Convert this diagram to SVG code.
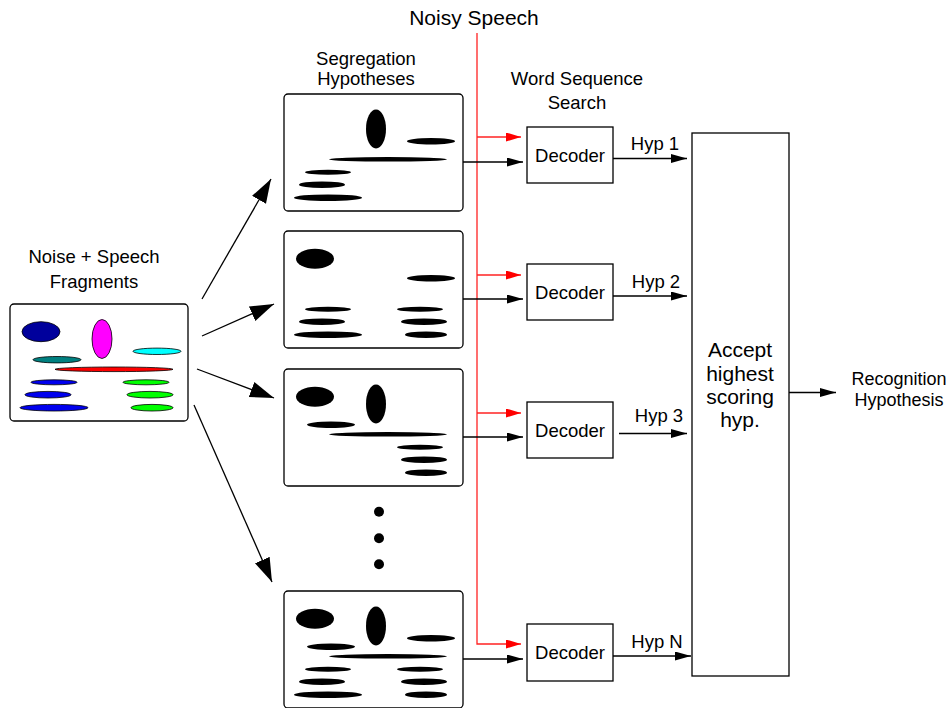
<svg xmlns="http://www.w3.org/2000/svg" xmlns:xlink="http://www.w3.org/1999/xlink" width="951" height="708" viewBox="0 0 951 708">
<style>
text{font-family:"Liberation Sans",Arial,sans-serif;fill:#000;text-anchor:middle}
.t18{font-size:18.5px}
.t17{font-size:18px}
.t21{font-size:21px}
.box{fill:#fff;stroke:#000;stroke-width:1.3}
.ln{fill:none;stroke:#000;stroke-width:1.3}
.rd{fill:none;stroke:#f22;stroke-width:1.3}
.frag use{stroke:#000;stroke-width:0.8}
.blk{fill:#000}
</style>
<defs>
<marker id="big" markerUnits="userSpaceOnUse" markerWidth="26" markerHeight="18" refX="24" refY="8" orient="auto"><path d="M0,0 L24,8 L0,16 z" fill="#000"/></marker>
<marker id="ah" markerUnits="userSpaceOnUse" markerWidth="18" markerHeight="10" refX="16" refY="4.5" orient="auto"><path d="M0,0 L16,4.5 L0,9 z" fill="#000"/></marker>
<marker id="ar" markerUnits="userSpaceOnUse" markerWidth="18" markerHeight="10" refX="15" refY="4.5" orient="auto"><path d="M0,0 L15,4.5 L0,9 z" fill="#f00"/></marker>
<ellipse id="fA" cx="41" cy="331.7" rx="19" ry="10"/>
<ellipse id="fB" cx="102" cy="339" rx="10" ry="19.5"/>
<ellipse id="fC" cx="157" cy="351.3" rx="24" ry="3.2"/>
<ellipse id="fD" cx="57" cy="359.7" rx="24" ry="3.2"/>
<ellipse id="fE" cx="114" cy="369.3" rx="59" ry="2.3"/>
<ellipse id="fF" cx="54" cy="382.3" rx="23" ry="2.5"/>
<ellipse id="fG" cx="146" cy="382.3" rx="23" ry="2.5"/>
<ellipse id="fH" cx="48" cy="394.7" rx="23" ry="3.3"/>
<ellipse id="fI" cx="150" cy="394.7" rx="23" ry="3.3"/>
<ellipse id="fJ" cx="54" cy="407.7" rx="34" ry="3.3"/>
<ellipse id="fK" cx="152" cy="407.7" rx="21" ry="3.3"/>
</defs>

<text class="t21" x="474" y="25">Noisy Speech</text>
<text class="t18" x="366" y="65">Segregation</text>
<text class="t18" x="366" y="85">Hypotheses</text>
<text class="t18" x="577" y="85">Word Sequence</text>
<text class="t18" x="577" y="109">Search</text>

<g id="noise-fragments">
<text class="t18" x="94" y="263">Noise + Speech</text>
<text class="t18" x="94" y="288">Fragments</text>
<rect class="box" x="10" y="304" width="178" height="117" rx="4"/>
<g class="frag">
<use xlink:href="#fA" fill="#00009c"/>
<use xlink:href="#fB" fill="#ff00ff"/>
<use xlink:href="#fC" fill="#00ffff"/>
<use xlink:href="#fD" fill="#008080"/>
<use xlink:href="#fE" fill="#ff0000"/>
<use xlink:href="#fF" fill="#0000ee"/>
<use xlink:href="#fG" fill="#00ff00"/>
<use xlink:href="#fH" fill="#0000ee"/>
<use xlink:href="#fI" fill="#00ff00"/>
<use xlink:href="#fJ" fill="#0000ee"/>
<use xlink:href="#fK" fill="#00ff00"/>
</g>
</g>

<g id="hyp1" transform="translate(274,-210)">
<rect class="box" x="10" y="304" width="179" height="117" rx="4"/>
<g class="blk"><use xlink:href="#fB"/><use xlink:href="#fC"/><use xlink:href="#fE"/><use xlink:href="#fF"/><use xlink:href="#fH"/><use xlink:href="#fJ"/></g>
</g>
<g id="hyp2" transform="translate(274,-73)">
<rect class="box" x="10" y="304" width="179" height="117" rx="4"/>
<g class="blk"><use xlink:href="#fA"/><use xlink:href="#fC"/><use xlink:href="#fF"/><use xlink:href="#fG"/><use xlink:href="#fH"/><use xlink:href="#fI"/><use xlink:href="#fJ"/><use xlink:href="#fK"/></g>
</g>
<g id="hyp3" transform="translate(274,65)">
<rect class="box" x="10" y="304" width="179" height="117" rx="4"/>
<g class="blk"><use xlink:href="#fA"/><use xlink:href="#fB"/><use xlink:href="#fD"/><use xlink:href="#fE"/><use xlink:href="#fG"/><use xlink:href="#fI"/><use xlink:href="#fK"/></g>
</g>
<g id="dots">
<circle cx="379" cy="511.7" r="5"/>
<circle cx="379" cy="538.3" r="5"/>
<circle cx="379" cy="564.3" r="5"/>
</g>
<g id="hypN" transform="translate(274,287)">
<rect class="box" x="10" y="304" width="179" height="117" rx="4"/>
<g class="blk"><use xlink:href="#fA"/><use xlink:href="#fB"/><use xlink:href="#fC"/><use xlink:href="#fD"/><use xlink:href="#fE"/><use xlink:href="#fF"/><use xlink:href="#fG"/><use xlink:href="#fH"/><use xlink:href="#fI"/><use xlink:href="#fJ"/><use xlink:href="#fK"/></g>
</g>

<g id="dec1"><rect class="box" x="527" y="127" width="86" height="56"/><text class="t18" x="570" y="162">Decoder</text></g>
<g id="dec2"><rect class="box" x="527" y="264" width="86" height="56"/><text class="t18" x="570" y="299">Decoder</text></g>
<g id="dec3"><rect class="box" x="527" y="402" width="86" height="56"/><text class="t18" x="570" y="437">Decoder</text></g>
<g id="dec4"><rect class="box" x="527" y="624" width="86" height="57"/><text class="t18" x="570" y="659">Decoder</text></g>

<g id="accept">
<rect class="box" x="692" y="133" width="97" height="543"/>
<text class="t21" x="740" y="357">Accept</text>
<text class="t21" x="740" y="380.5">highest</text>
<text class="t21" x="740" y="404">scoring</text>
<text class="t21" x="740" y="427">hyp.</text>
</g>
<g id="result">
<text class="t17" x="899" y="385">Recognition</text>
<text class="t17" x="899" y="406">Hypothesis</text>
</g>

<g id="connectors">
<line class="ln" x1="202" y1="299" x2="271" y2="179" marker-end="url(#big)"/>
<line class="ln" x1="202" y1="336" x2="274" y2="304" marker-end="url(#big)"/>
<line class="ln" x1="197" y1="369" x2="274" y2="398" marker-end="url(#big)"/>
<line class="ln" x1="194" y1="405" x2="272" y2="582" marker-end="url(#big)"/>

<polyline class="rd" points="477,33 477,644 521,644" marker-end="url(#ar)"/>
<line class="rd" x1="477" y1="137" x2="521" y2="137" marker-end="url(#ar)"/>
<line class="rd" x1="477" y1="275" x2="521" y2="275" marker-end="url(#ar)"/>
<line class="rd" x1="477" y1="413" x2="521" y2="413" marker-end="url(#ar)"/>

<line class="ln" x1="463" y1="162" x2="523" y2="162" marker-end="url(#ah)"/>
<line class="ln" x1="463" y1="299" x2="523" y2="299" marker-end="url(#ah)"/>
<line class="ln" x1="463" y1="437" x2="523" y2="437" marker-end="url(#ah)"/>
<line class="ln" x1="463" y1="659" x2="523" y2="659" marker-end="url(#ah)"/>

<line class="ln" x1="613" y1="158.5" x2="687" y2="158.5" marker-end="url(#ah)"/>
<line class="ln" x1="613" y1="296" x2="687" y2="296" marker-end="url(#ah)"/>
<line class="ln" x1="619" y1="433.5" x2="687" y2="433.5" marker-end="url(#ah)"/>
<line class="ln" x1="613" y1="656" x2="691" y2="656" marker-end="url(#ah)"/>
<text class="t18" x="655" y="149.5">Hyp 1</text>
<text class="t18" x="656" y="287.5">Hyp 2</text>
<text class="t18" x="659" y="422">Hyp 3</text>
<text class="t18" x="657" y="647.5">Hyp N</text>

<line class="ln" x1="789" y1="392.5" x2="836" y2="392.5" marker-end="url(#ah)"/>
</g>
</svg>
